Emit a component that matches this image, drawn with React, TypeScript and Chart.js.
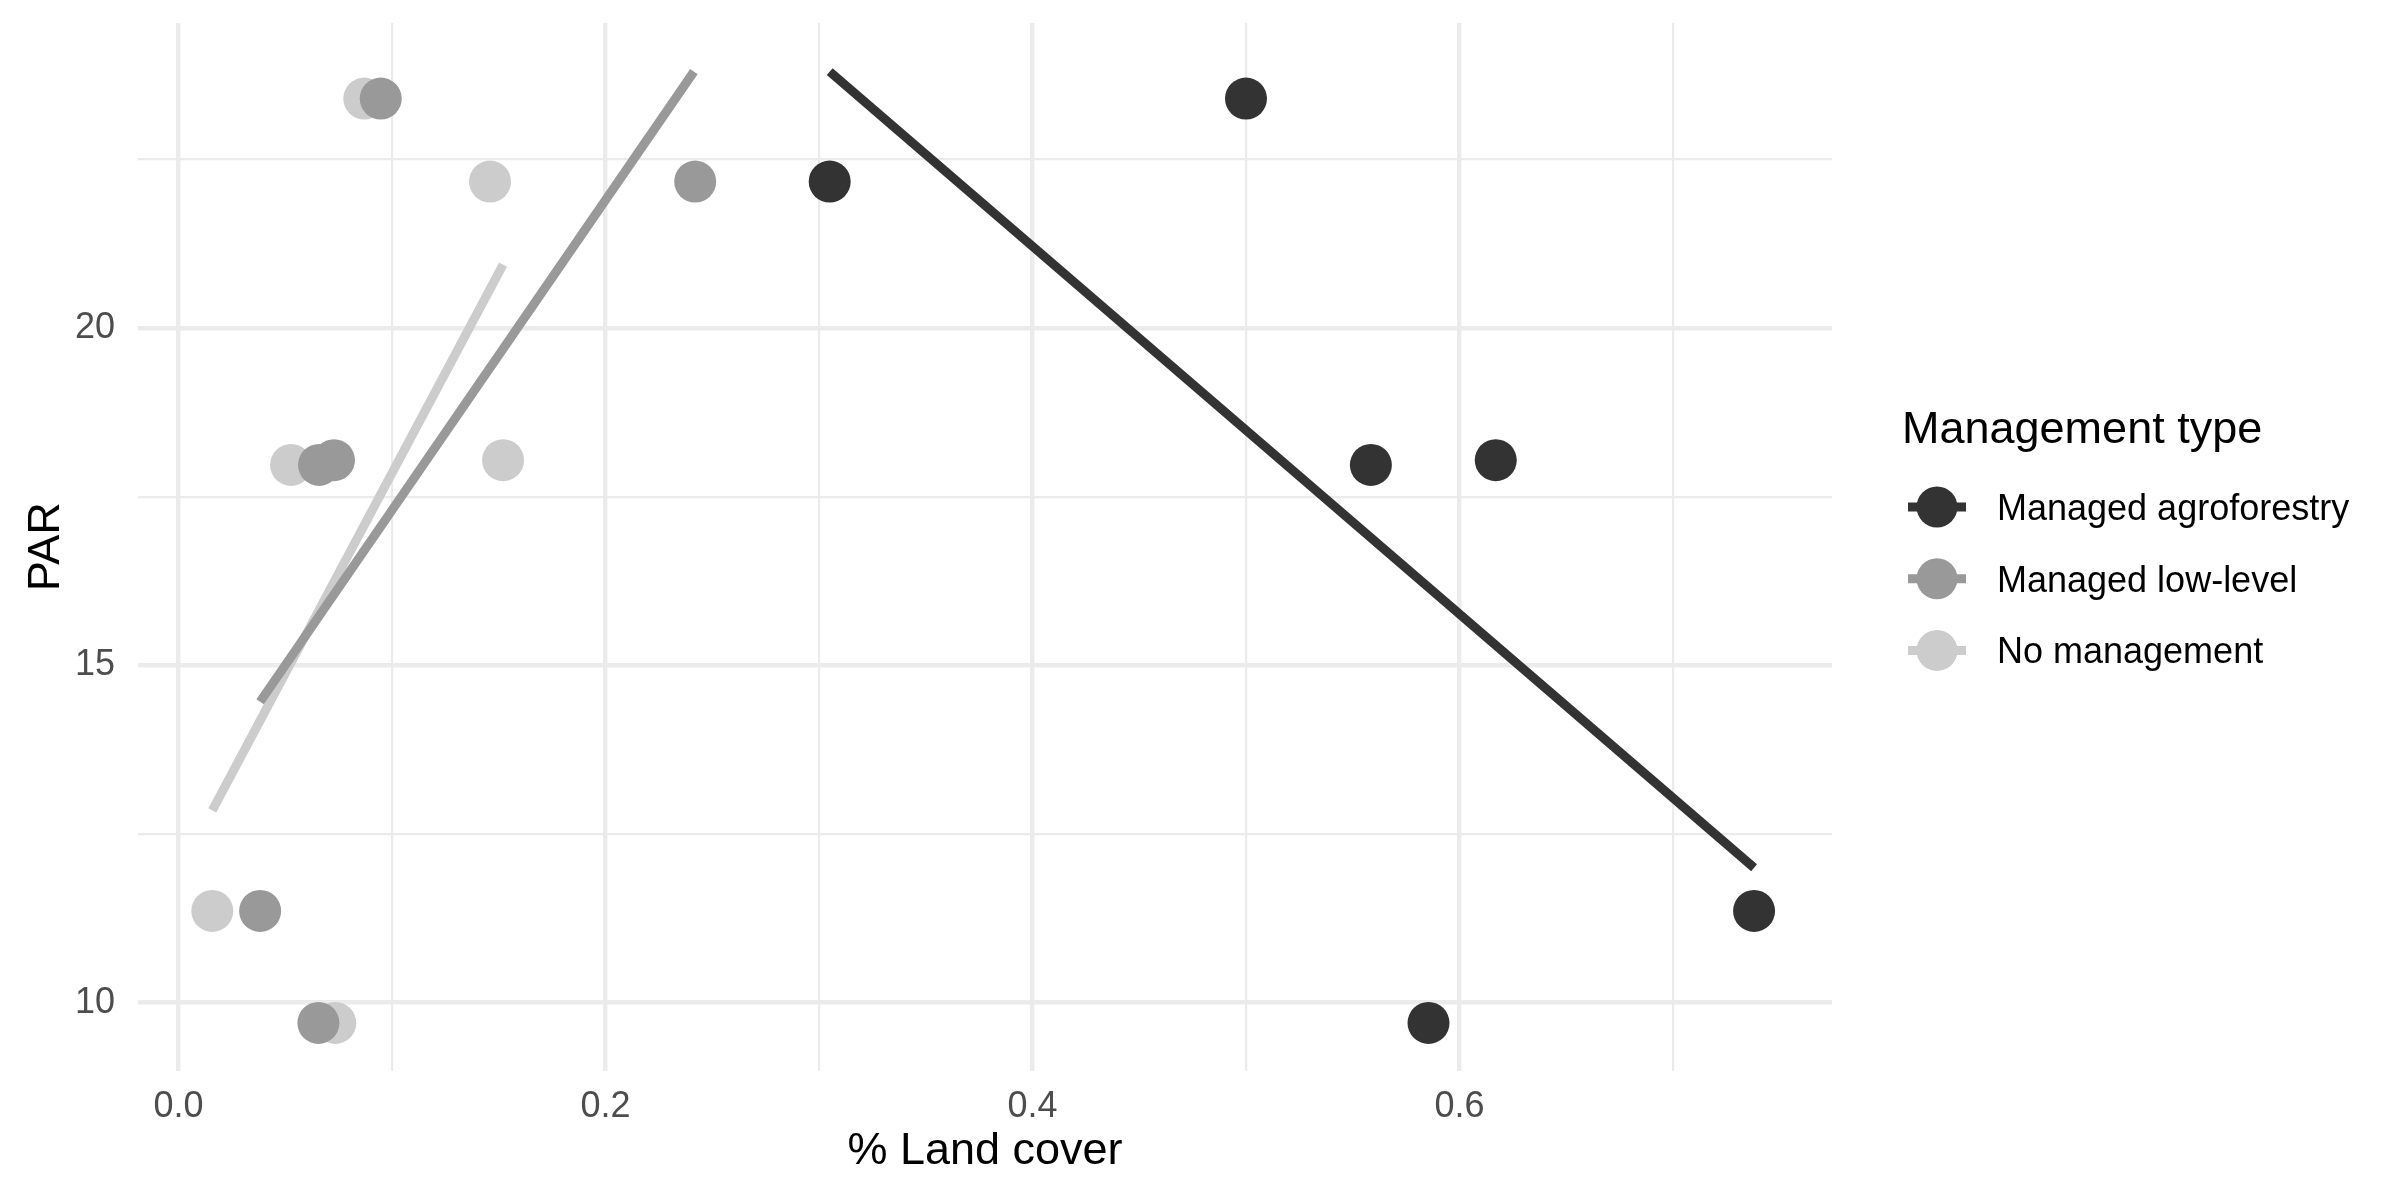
import React, { useEffect, useRef } from "react";
import { Chart, registerables } from "chart.js";

Chart.register(...registerables);

// ---------- data ----------
const SERIES_NAMES = ["Managed agroforestry", "Managed low-level", "No management"];
const SERIES_COLORS = ["#333333", "#999999", "#CCCCCC"];

const AGRO_X = [0.305, 0.5, 0.5585, 0.617, 0.5855, 0.738];
const AGRO_Y = [22.17, 23.4, 17.97, 18.04, 9.7, 11.36];
const LOW_X = [0.0947, 0.242, 0.0658, 0.0728, 0.0382, 0.0655];
const LOW_Y = [23.4, 22.17, 17.97, 18.04, 11.36, 9.7];
const NONE_X = [0.087, 0.1459, 0.0527, 0.152, 0.0158, 0.0734];
const NONE_Y = [23.4, 22.17, 17.97, 18.04, 11.36, 9.7];

// fitted (lm) line end points
const AGRO_FIT_X = [0.305, 0.738];
const AGRO_FIT_Y = [23.8, 12.0];
const LOW_FIT_X = [0.0382, 0.2414];
const LOW_FIT_Y = [14.46, 23.8];
const NONE_FIT_X = [0.0158, 0.152];
const NONE_FIT_Y = [12.85, 20.94];

const X_GRID = [0, 0.1, 0.2, 0.3, 0.4, 0.5, 0.6, 0.7];
const X_TICK_LABELS = ["0.0", "", "0.2", "", "0.4", "", "0.6", ""];
const Y_GRID = [10, 12.5, 15, 17.5, 20, 22.5];
const Y_TICK_LABELS = ["10", "", "15", "", "20", ""];

const X_TITLE = "% Land cover";
const Y_TITLE = "PAR";
const LEGEND_TITLE = "Management type";

// ---------- helpers ----------
const FONT = "'Liberation Sans', Arial, Helvetica, sans-serif";
const toPts = (xs: number[], ys: number[]) => xs.map((x, i) => ({ x, y: ys[i] }));

const legendPlugin = {
  id: "ggLegend",
  afterDraw(chart: any) {
    const ctx = chart.ctx as CanvasRenderingContext2D;
    ctx.save();
    ctx.fillStyle = "#000000";
    ctx.font = `45px ${FONT}`;
    ctx.textAlign = "left";
    ctx.textBaseline = "alphabetic";
    ctx.fillText(LEGEND_TITLE, 1902, 443);
    const keyX = 1937;
    const startY = 507;
    const step = 71.7;
    SERIES_NAMES.forEach((name, i) => {
      const y = startY + i * step;
      ctx.strokeStyle = SERIES_COLORS[i];
      ctx.lineWidth = 9;
      ctx.lineCap = "butt";
      ctx.beginPath();
      ctx.moveTo(keyX - 29, y);
      ctx.lineTo(keyX + 29, y);
      ctx.stroke();
      ctx.fillStyle = SERIES_COLORS[i];
      ctx.beginPath();
      ctx.arc(keyX, y, 20.5, 0, Math.PI * 2);
      ctx.fill();
      ctx.fillStyle = "#000000";
      ctx.font = `36px ${FONT}`;
      ctx.fillText(name, 1997, y + 13);
    });
    ctx.restore();
  },
};

const isMajor = (i: number) => i % 2 === 0;

export default function App() {
  const ref = useRef<HTMLCanvasElement | null>(null);

  useEffect(() => {
    document.body.style.margin = "0";
    if (!ref.current) return;
    Chart.defaults.font.family = FONT;

    const pointSets = [
      toPts(AGRO_X, AGRO_Y),
      toPts(LOW_X, LOW_Y),
      toPts(NONE_X, NONE_Y),
    ];
    const fitSets = [
      toPts(AGRO_FIT_X, AGRO_FIT_Y),
      toPts(LOW_FIT_X, LOW_FIT_Y),
      toPts(NONE_FIT_X, NONE_FIT_Y),
    ];

    const datasets: any[] = [];
    fitSets.forEach((d, i) => {
      datasets.push({
        type: "line",
        label: SERIES_NAMES[i] + " fit",
        data: d,
        borderColor: SERIES_COLORS[i],
        borderWidth: 9,
        borderCapStyle: "butt",
        pointRadius: 0,
        fill: false,
        tension: 0,
      });
    });
    pointSets.forEach((d, i) => {
      datasets.push({
        type: "scatter",
        label: SERIES_NAMES[i],
        data: d,
        backgroundColor: SERIES_COLORS[i],
        pointBackgroundColor: SERIES_COLORS[i],
        pointBorderWidth: 0,
        borderWidth: 0,
        pointRadius: 21,
        pointHoverRadius: 21,
      });
    });

    const chart = new Chart(ref.current, {
      type: "scatter",
      data: { datasets },
      plugins: [legendPlugin],
      options: {
        responsive: false,
        animation: false,
        devicePixelRatio: 1,
        layout: { padding: { left: 0, top: 23, right: 568, bottom: 0 } },
        plugins: { legend: { display: false }, tooltip: { enabled: false } },
        scales: {
          x: {
            type: "linear",
            min: -0.019,
            max: 0.7745,
            afterBuildTicks: (s: any) => {
              s.ticks = X_GRID.map((v) => ({ value: v }));
            },
            afterFit: (s: any) => {
              s.height = 129.5;
              s.paddingLeft = 0;
              s.paddingRight = 0;
            },
            ticks: {
              autoSkip: false,
              maxRotation: 0,
              padding: 15,
              color: "#4D4D4D",
              font: { size: 36 },
              callback: (_v: any, i: number) => X_TICK_LABELS[i],
            },
            grid: {
              color: "#EBEBEB",
              lineWidth: (c: any) => (isMajor(c.index) ? 4.4 : 2.2),
              drawTicks: false,
            },
            border: { display: false },
            title: {
              display: true,
              text: X_TITLE,
              color: "#000000",
              font: { size: 45 },
              padding: { top: 0, bottom: 21 },
            },
          },
          y: {
            type: "linear",
            min: 8.995,
            max: 24.52,
            afterBuildTicks: (s: any) => {
              s.ticks = Y_GRID.map((v) => ({ value: v }));
            },
            afterFit: (s: any) => {
              s.width = 138;
              s.paddingTop = 0;
              s.paddingBottom = 0;
            },
            ticks: {
              autoSkip: false,
              padding: 23,
              color: "#4D4D4D",
              font: { size: 36 },
              callback: (_v: any, i: number) => Y_TICK_LABELS[i],
            },
            grid: {
              color: "#EBEBEB",
              lineWidth: (c: any) => (isMajor(c.index) ? 4.4 : 2.2),
              drawTicks: false,
            },
            border: { display: false },
            title: {
              display: true,
              text: Y_TITLE,
              color: "#000000",
              font: { size: 45 },
              padding: { top: 20, bottom: 0 },
            },
          },
        },
      },
    } as any);

    return () => chart.destroy();
  }, []);

  return (
    <div style={{ width: 2400, height: 1200, background: "#ffffff" }}>
      <canvas ref={ref} width={2400} height={1200} style={{ display: "block" }} />
    </div>
  );
}
